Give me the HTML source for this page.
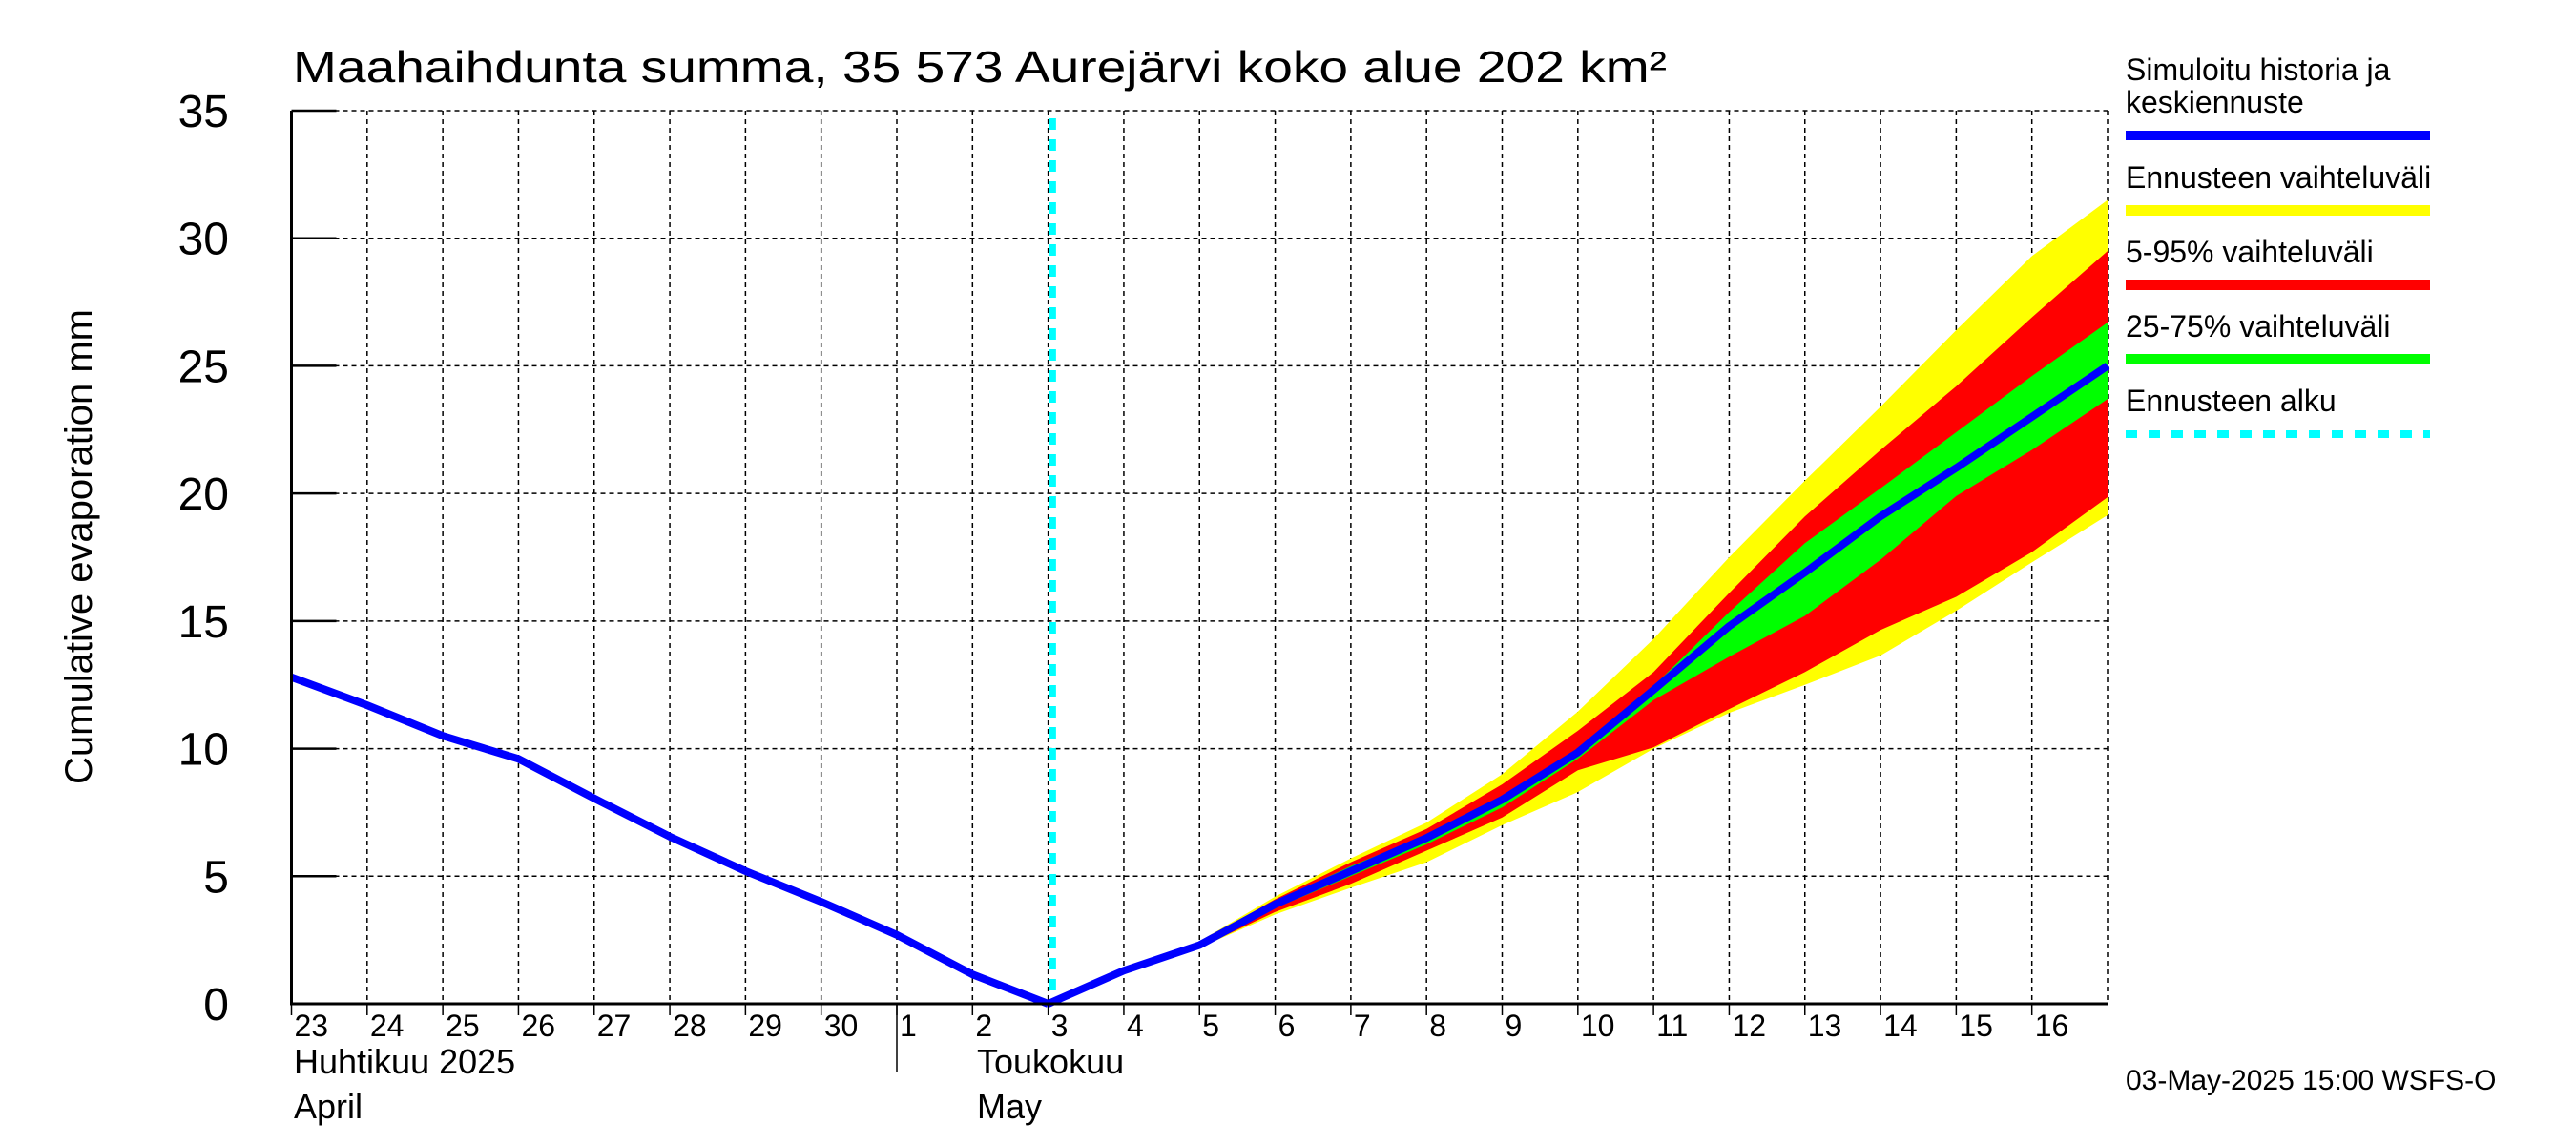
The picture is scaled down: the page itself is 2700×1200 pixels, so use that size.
<!DOCTYPE html>
<html><head><meta charset="utf-8"><style>
html,body{margin:0;padding:0;background:#fff;}
svg{display:block;font-family:"Liberation Sans",sans-serif;}
</style></head><body>
<svg id="chart" width="2700" height="1200" viewBox="0 0 2700 1200" xmlns="http://www.w3.org/2000/svg">
<rect width="2700" height="1200" fill="#fff"/>
<text x="307" y="86" font-size="46" textLength="1440" lengthAdjust="spacingAndGlyphs">Maahaihdunta summa, 35 573 Aurejärvi koko alue 202 km²</text>
<g id="grid"></g>
<g id="bands"></g>
<g id="lines"></g>
<g id="axes"></g>
<text transform="translate(96,573) rotate(-90)" text-anchor="middle" font-size="40">Cumulative evaporation   mm</text>
<text x="308" y="1125" font-size="36">Huhtikuu  2025</text>
<text x="308" y="1172" font-size="36">April</text>
<text x="1024" y="1125" font-size="36">Toukokuu</text>
<text x="1024" y="1172" font-size="36">May</text>
<g font-size="32">
<text x="2228" y="84">Simuloitu historia ja</text>
<text x="2228" y="118">keskiennuste</text>
<rect x="2228" y="137" width="319" height="10" fill="#0000ff"/>
<text x="2228" y="197">Ennusteen vaihteluväli</text>
<rect x="2228" y="215" width="319" height="11" fill="#ffff00"/>
<text x="2228" y="275">5-95% vaihteluväli</text>
<rect x="2228" y="293" width="319" height="11" fill="#ff0000"/>
<text x="2228" y="353">25-75% vaihteluväli</text>
<rect x="2228" y="371" width="319" height="11" fill="#00ff00"/>
<text x="2228" y="431">Ennusteen alku</text>
<line x1="2228" y1="455" x2="2547" y2="455" stroke="#00ffff" stroke-width="8" stroke-dasharray="12,12"/>
</g>
<text x="2228" y="1142" font-size="30">03-May-2025 15:00 WSFS-O</text>
</svg>
<script>
const dayLabels = ["23","24","25","26","27","28","29","30","1","2","3","4","5","6","7","8","9","10","11","12","13","14","15","16"];
const yTicks = [0,5,10,15,20,25,30,35];
const histDays = [0,1,2,3,4,5,6,7,8,9,10];
const histValues = [12.8,11.7,10.5,9.6,8.05,6.55,5.2,4.0,2.7,1.15,0];
const fcDays = [10,11,12,13,14,15,16,17,18,19,20,21,22,23,24];
const median = [0,1.3,2.3,3.9,5.2,6.5,8.0,9.85,12.3,14.8,16.9,19.1,21.0,23.0,25.0];
const yellowHi = [0,1.35,2.45,4.2,5.7,7.1,9.0,11.45,14.3,17.5,20.5,23.4,26.4,29.3,31.5];
const yellowLo = [0,1.25,2.2,3.5,4.55,5.55,7.0,8.3,10.0,11.4,12.5,13.65,15.4,17.3,19.15];
const redHi = [0,1.35,2.4,4.1,5.55,6.85,8.6,10.7,13.0,16.1,19.1,21.7,24.2,26.9,29.5];
const redLo = [0,1.25,2.2,3.6,4.7,6.0,7.3,9.15,10.05,11.55,13.0,14.65,15.95,17.7,19.85];
const greenHi = [0,1.32,2.35,4.0,5.4,6.6,8.15,10.0,12.45,15.35,18.05,20.2,22.4,24.6,26.7];
const greenLo = [0,1.28,2.25,3.75,5.0,6.25,7.7,9.6,11.9,13.6,15.2,17.4,19.9,21.7,23.7];
const forecastStartDay = 10.06;

const X0=305.5, X1=2209, Y0=1052, Y1=116, NDAYS=24, YMAX=35;
function xs(d){return X0+(X1-X0)*d/NDAYS;}
function ys(v){return Y0-(Y0-Y1)*v/YMAX;}
const NS="http://www.w3.org/2000/svg";
function mk(tag,parent,attrs){const e=document.createElementNS(NS,tag);for(const k in attrs)e.setAttribute(k,attrs[k]);parent.appendChild(e);return e;}
const grid=document.getElementById('grid'),bands=document.getElementById('bands'),lines=document.getElementById('lines'),axes=document.getElementById('axes');

for(let i=1;i<=NDAYS;i++){
  const l=mk('line',grid,{x1:xs(i),x2:xs(i),y1:Y1,y2:Y0,stroke:'#000','stroke-width':1.5,'stroke-dasharray':'5,4'});
  
  
}
yTicks.forEach(v=>{
  if(v>0){const l=mk('line',grid,{x1:X0,x2:X1,y1:ys(v),y2:ys(v),stroke:'#000','stroke-width':1.5,'stroke-dasharray':'5,4'});
  
  }
  const t=mk('line',axes,{x1:X0,x2:X0+47,y1:ys(v),y2:ys(v),stroke:'#000','stroke-width':2.5});
  
  
  const tx=mk('text',axes,{x:240,y:ys(v)+17,'font-size':48,'text-anchor':'end'});
  tx.textContent=v;
  
  
});

function band(hi,lo,color,name){
  let pts=fcDays.map((d,i)=>xs(d)+','+ys(hi[i]));
  for(let i=fcDays.length-1;i>=0;i--)pts.push(xs(fcDays[i])+','+ys(lo[i]));
  const p=mk('polygon',bands,{points:pts.join(' '),fill:color});
  
  
}
band(yellowHi,yellowLo,'#ffff00','band-forecast-range');
band(redHi,redLo,'#ff0000','band-5-95');
band(greenHi,greenLo,'#00ff00','band-25-75');

const cy=mk('line',lines,{x1:xs(forecastStartDay),x2:xs(forecastStartDay),y1:Y1+8,y2:Y0,stroke:'#00ffff','stroke-width':7,'stroke-dasharray':'12,10'});



const hp=mk('polyline',lines,{points:histDays.map((d,i)=>xs(d)+','+ys(histValues[i])).join(' '),fill:'none',stroke:'#0000ff','stroke-width':8,'stroke-linejoin':'round'});


const mp=mk('polyline',lines,{points:fcDays.map((d,i)=>xs(d)+','+ys(median[i])).join(' '),fill:'none',stroke:'#0000ff','stroke-width':8,'stroke-linejoin':'round'});



const ax=mk('path',axes,{d:`M${X0},${Y1} L${X0},${Y0} L${X1},${Y0}`,fill:'none',stroke:'#000','stroke-width':3});


const sep=mk('line',axes,{x1:xs(8),x2:xs(8),y1:Y0,y2:1123,stroke:'#000','stroke-width':1.5});


dayLabels.forEach((lab,i)=>{
  const tk=mk('line',axes,{x1:xs(i),x2:xs(i),y1:Y0,y2:Y0+12,stroke:'#000','stroke-width':1.5});
  
  
  const t=mk('text',axes,{x:xs(i)+3,y:1086,'font-size':32});
  t.textContent=lab;
  
  
});
</script>
</body></html>
